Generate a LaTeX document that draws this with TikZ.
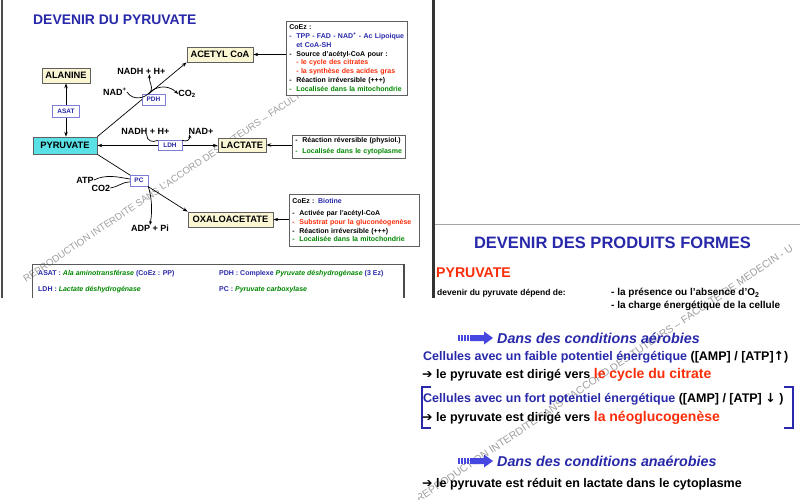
\documentclass[tikz,border=0pt]{standalone}
\usepackage{fontspec}
\setmainfont{Liberation Sans}
\newfontfamily\symbfont{DejaVu Sans}
\usetikzlibrary{arrows.meta}
\definecolor{slideblue}{RGB}{40,40,170}
\definecolor{arrowblue}{RGB}{70,70,225}
\definecolor{slidered}{RGB}{250,45,10}
\definecolor{slidegreen}{RGB}{0,135,0}
\definecolor{metabfill}{RGB}{250,246,212}
\definecolor{pyrfill}{RGB}{90,225,230}
\definecolor{enzborder}{RGB}{125,125,215}
\newcommand\itm[2]{\textcolor{#1}{\makebox[7pt][l]{-}#2}}
\tikzset{metab/.style={draw=gray!75!black,fill=metabfill,line width=0.7pt,inner sep=0pt,
           minimum height=15pt,font=\fontsize{9.3}{11}\bfseries},
         enzyme/.style={draw=enzborder,fill=white,text=slideblue,inner sep=0pt,
           minimum height=11pt,font=\fontsize{6.5}{8}\bfseries},
         lbl/.style={inner sep=0pt,font=\fontsize{9}{11}\bfseries},
         reaction/.style={line width=0.7pt,-{Stealth[length=5pt,width=3.5pt]}},
         bireaction/.style={line width=0.7pt,{Stealth[length=5pt,width=3.5pt]}-{Stealth[length=5pt,width=3.5pt]}},
         cof/.style={line width=0.7pt},
         cofarrow/.style={cof,-{Stealth[length=4pt,width=3pt]}},
         infobox/.style={draw=gray!75!black,fill=white,line width=0.7pt,align=left,
           inner xsep=3pt,inner ysep=3.5pt,anchor=north west,font=\fontsize{7}{8.8}\bfseries},
         txt/.style={inner sep=0pt,anchor=base west},
         legend/.style={txt,font=\fontsize{7}{8}\bfseries},
         wmark/.style={txt,text=gray!75,rotate=34,font=\fontsize{9.7}{11}\selectfont},
         fatarrow/.pic={
           \foreach \i in {0,3,6,9} \fill[arrowblue] (\i,-3) rectangle ++(1.8,6);
           \fill[arrowblue] (12,-3) -- (26,-3) -- (26,-6.5) -- (35,0) -- (26,6.5) -- (26,3) -- (12,3) -- cycle;}
         }
\begin{document}
\begin{tikzpicture}[x=1pt,y=-1pt]
\useasboundingbox (0,0) rectangle (800,500);
\fill[white] (0,0) rectangle (800,500);
\begin{scope}
\clip (3,0) rectangle (432,298);
\node[wmark] (wm1) at (26,283) {REPRODUCTION INTERDITE SANS L'ACCORD DES TUTEURS – FACULTE DE MEDECIN};
\end{scope}
\begin{scope}
\clip (436,225) -- (800,225) -- (800,500) -- (418,500) -- (418,299) -- (436,299) -- cycle;
\node[wmark,font=\fontsize{10.5}{12}\selectfont] (wm2) at (419,503) {REPRODUCTION INTERDITE SANS L'ACCORD DES TUTEURS – FACULTE DE MEDECIN - U};
\end{scope}
\draw[black!70,line width=1.5pt] (2,0) -- (2,298);
\draw[black!80,line width=3pt] (433,0) -- (433,298);
\draw[gray!70,line width=0.8pt] (435,224) -- (800,224);

\node[txt,font=\fontsize{13.9}{16}\bfseries,text=slideblue] (title1) at (33,25) {DEVENIR DU PYRUVATE};

\node[metab,minimum width=48pt] (alan) at (66,75.5) {ALANINE};
\node[metab,fill=pyrfill,minimum width=64pt,minimum height=17pt] (pyr) at (65,145.5) {PYRUVATE};
\node[metab,minimum width=66pt] (acetyl) at (220,54.5) {ACETYL CoA};
\node[metab,minimum width=48pt,minimum height=14pt] (lact) at (242,145) {LACTATE};
\node[metab,minimum width=85pt] (oxalo) at (230.5,219.5) {OXALOACETATE};

\draw[bireaction] (alan.south) -- (alan.south |- pyr.north);
\draw[reaction] (pyr.north east) -- (acetyl.south west);
\draw[bireaction] (pyr.east) -- (pyr.east -| lact.west);
\draw[reaction] (pyr.south east) -- (oxalo.north west);

\node[enzyme,minimum width=27pt,minimum height=12pt] (asat) at (66,111) {ASAT};
\node[enzyme,minimum width=23pt] (pdh) at (153.5,99.5) {PDH};
\node[enzyme,minimum width=24pt,minimum height=10pt] (ldh) at (170,145.5) {LDH};
\node[enzyme,minimum width=18pt] (pc) at (139,180.5) {PC};

\node[lbl] (nadh1) at (141.5,71) {NADH + H+};
\node[lbl] (nadp1) at (115,92) {NAD\textsuperscript{+}};
\node[lbl] (co2a) at (187,94) {CO\textsubscript{2}};
\node[lbl] (nadh2) at (145.5,131) {NADH + H+};
\node[lbl] (nadp2) at (201,131) {NAD+};
\node[lbl] (atp) at (85,180) {ATP};
\node[lbl] (co2b) at (101,188) {CO2};
\node[lbl] (adp) at (150,228.5) {ADP + Pi};

\coordinate (pdhj) at (151,91);
\draw[cof] (nadp1.east) .. controls (133,101) and (145,99) .. (pdhj);
\draw[cofarrow] (pdhj) .. controls (153,86) and (149,83) .. ([xshift=8pt]nadh1.south);
\draw[cofarrow] (pdhj) .. controls (160,85) and (170,86) .. (co2a.west);
\draw[cof] ([xshift=1pt]nadh2.south) .. controls (147,141) and (152,143) .. (ldh.north west);
\draw[cofarrow] (ldh.north east) .. controls (187,142) and (190,140) .. ([xshift=1pt]nadp2.south west);
\draw[cof] (atp.east) .. controls (106,174) and (118,177) .. ([yshift=1.5pt]pc.west);
\draw[cof] (co2b.east) .. controls (118,187) and (122,182) .. ([yshift=-1.5pt]pc.west);
\draw[cofarrow] (pc.south east) .. controls (151,195) and (153,208) .. (adp.north);

\node[infobox,text width=115pt] (acetinfo) at (286,21) {CoEz :\\
\itm{slideblue}{TPP - FAD - NAD\textsuperscript{+} - Ac Lipoique}\\
\hspace*{7pt}\textcolor{slideblue}{et CoA-SH}\\
\itm{black}{Source d'acétyl-CoA pour :}\\
\hspace*{7pt}\textcolor{slidered}{- le cycle des citrates}\\
\hspace*{7pt}\textcolor{slidered}{- la synthèse des acides gras}\\
\itm{black}{Réaction irréversible (+++)}\\
\itm{slidegreen}{Localisée dans la mitochondrie}};
\node[infobox,text width=107pt,inner ysep=2.5pt,font=\fontsize{7}{11}\bfseries] (lactinfo) at (292,135) {\itm{black}{Réaction réversible (physiol.)}\\
\itm{slidegreen}{Localisée dans le cytoplasme}};
\node[infobox,text width=124pt,inner ysep=4.5pt] (oxinfo) at (289,194) {CoEz : \textcolor{slideblue}{Biotine}\\[2.7pt]
\itm{black}{Activée par l'acétyl-CoA}\\
\itm{slidered}{Substrat pour la gluconéogenèse}\\
\itm{black}{Réaction irréversible (+++)}\\
\itm{slidegreen}{Localisée dans la mitochondrie}};

\draw[reaction] (acetinfo.west |- acetyl) -- (acetyl.east);
\draw[reaction] (lactinfo.west |- lact) -- (lact.east);
\draw[reaction] (oxinfo.west |- oxalo) -- (oxalo.east);

\draw[gray!70!black,line width=0.7pt] (32,298) -- (32,264) -- (404,264);
\draw[black!70,line width=1.2pt] (404,264) -- (404,298);
\node[legend] (lasat) at (38,275.5) {\textcolor{slideblue}{ASAT :} \textcolor{slidegreen}{\itshape Ala aminotransférase} \textcolor{slideblue}{(CoEz : PP)}};
\node[legend] (lpdh) at (219,275.5) {\textcolor{slideblue}{PDH : Complexe} \textcolor{slidegreen}{\itshape Pyruvate déshydrogénase} \textcolor{slideblue}{(3 Ez)}};
\node[legend] (lldh) at (38,291.5) {\textcolor{slideblue}{LDH :} \textcolor{slidegreen}{\itshape Lactate déshydrogénase}};
\node[legend] (lpc) at (219,291.5) {\textcolor{slideblue}{PC :} \textcolor{slidegreen}{\itshape Pyruvate carboxylase}};

\node[txt,anchor=base,font=\fontsize{16.5}{20}\bfseries,text=slideblue] (title2) at (612.5,248) {DEVENIR DES PRODUITS FORMES};
\node[txt,font=\fontsize{14.1}{17}\bfseries,text=slidered] (pyr2) at (436,277) {PYRUVATE};
\node[txt,font=\fontsize{8.5}{11}\bfseries] (dep) at (437,295.5) {devenir du pyruvate dépend de:};
\node[txt,font=\fontsize{10}{12}\bfseries] (dep1) at (611,295.5) {- la présence ou l'absence d'O\textsubscript{2}};
\node[txt,font=\fontsize{10}{12}\bfseries] (dep2) at (611,308.5) {- la charge énergétique de la cellule};

\pic at (458,338) {fatarrow};
\node[txt,font=\fontsize{14.3}{17}\bfseries\itshape,text=slideblue] (aero) at (497,343) {Dans des conditions aérobies};
\node[txt,font=\fontsize{12.5}{15}\bfseries,text=slideblue] (faible) at (423,360.5) {Cellules avec un faible potentiel énergétique \textcolor{black}{([AMP] / [ATP]{\symbfont ↑})}};
\node[txt,font=\fontsize{12.5}{15}\bfseries] (citr) at (422,378.5) {{\symbfont\mdseries ➔} le pyruvate est dirigé vers \textcolor{slidered}{\fontsize{14}{17}\selectfont le cycle du citrate}};
\draw[slideblue,line width=1.6pt] (431,387) -- (422,387) -- (422,428) -- (431,428);
\draw[slideblue,line width=1.6pt] (784,387) -- (793,387) -- (793,428) -- (784,428);
\node[txt,font=\fontsize{12.5}{15}\bfseries,text=slideblue] (fort) at (423,402.5) {Cellules avec un fort potentiel énergétique \textcolor{black}{([AMP] / [ATP] {\symbfont ↓} )}};
\node[txt,font=\fontsize{12.5}{15}\bfseries] (neo) at (422,421.5) {{\symbfont\mdseries ➔} le pyruvate est dirigé vers \textcolor{slidered}{\fontsize{14}{17}\selectfont la néoglucogenèse}};
\pic at (458,461) {fatarrow};
\node[txt,font=\fontsize{14.3}{17}\bfseries\itshape,text=slideblue] (anaero) at (497,466) {Dans des conditions anaérobies};
\node[txt,font=\fontsize{12.5}{15}\bfseries] (cyto) at (422,487.5) {{\symbfont\mdseries ➔} le pyruvate est réduit en lactate dans le cytoplasme};
\end{tikzpicture}
\end{document}
